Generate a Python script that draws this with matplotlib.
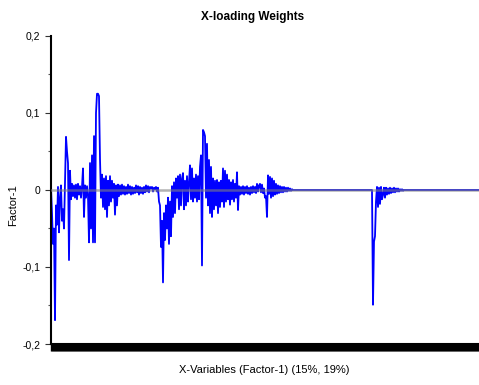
import numpy as np
import matplotlib
matplotlib.use("Agg")
import matplotlib.pyplot as plt
from matplotlib.ticker import MultipleLocator, FixedLocator

plt.rcParams['font.family'] = ['Liberation Sans', 'DejaVu Sans']

TITLE = "X-loading Weights"
XLABEL = "X-Variables (Factor-1) (15%, 19%)"
YLABEL = "Factor-1"

y_ticks = [-0.2, -0.1, 0.0, 0.1, 0.2]
y_tick_labels = ["-0,2", "-0,1", "0", "0,1", "0,2"]

# loading weights, one per variable
weights_first_band = [
    0.003, -0.030, -0.070, -0.050, -0.169, -0.020, -0.045, 0.004, -0.055, -0.010,
    0.006, -0.040, -0.025, -0.050, 0.010, 0.069, 0.050, 0.035, -0.091, 0.025,
    -0.012, 0.008, -0.008, 0.006, -0.010, 0.007, -0.012, 0.008, -0.006, 0.005,
    -0.010, 0.004, 0.028, -0.035, 0.006, -0.010, 0.005, -0.008, -0.068, 0.035,
    -0.050, 0.045, -0.068, 0.070, -0.068, 0.100, 0.125, 0.125, 0.122, 0.040,
    -0.010, 0.020, -0.022, 0.015, -0.025, 0.018, -0.035, 0.012, -0.020, 0.018,
    -0.015, 0.012, -0.010, 0.008, -0.032, 0.006, -0.020, 0.007, -0.008, 0.006,
    -0.006, 0.007, -0.005, 0.005, -0.006, 0.004, -0.005, 0.007, -0.004, 0.005,
    -0.006, 0.004, -0.005, 0.003, -0.004, 0.006, -0.003, 0.005, -0.006, 0.004,
    -0.004, 0.003, -0.005, 0.004, -0.003, 0.006, -0.002, 0.005, -0.003, 0.004,
    0.002, 0.004, -0.002, 0.003, 0.001, 0.004, -0.002, 0.003,
]
weights_second_band = [
    -0.015, -0.020,
    -0.074, -0.040, -0.120, -0.030, -0.065, -0.020, -0.050, -0.010, -0.070, -0.015,
    -0.060, 0.005, -0.035, 0.010, -0.030, 0.015, -0.010, 0.018, -0.025, 0.020,
    -0.020, 0.015, 0.022, -0.025, 0.012, -0.020, 0.018, -0.015, 0.010, 0.032,
    -0.012, 0.028, -0.015, 0.015, -0.010, 0.020, -0.015, 0.018, -0.012, 0.030,
    0.045, -0.098, 0.078, 0.075, 0.070, -0.010, 0.060, -0.020, 0.039, -0.030,
    0.030, -0.035, 0.015, -0.025, 0.012, -0.020, 0.013, -0.030, 0.010, -0.022,
    0.012, -0.015, 0.028, -0.022, 0.025, -0.015, 0.020, -0.012, 0.013, -0.019,
    0.010, -0.012, 0.013, -0.015, 0.008, -0.010, 0.023, -0.026, 0.005, -0.006,
    0.004, -0.005, 0.005, -0.006, 0.004, -0.004, 0.005, -0.005, 0.003, -0.006,
    0.004, -0.004, 0.005, -0.003, 0.004, -0.004, 0.008, -0.002, 0.006, 0.008,
    -0.003, 0.007, -0.004, 0.002, -0.010, -0.008, -0.035, 0.019, -0.005, 0.017,
    -0.010, 0.015, -0.008, 0.012, -0.006, 0.008, -0.005, 0.006, -0.004, 0.005,
    -0.003, 0.004, -0.003, 0.004, -0.002, 0.003, -0.002, 0.003, -0.001, 0.002,
    -0.001, 0.001,
]
weights_flat_gap = [
    0.0, 0.0, 0.0, 0.0, 0.0, 0.0, 0.0, 0.0, 0.0, 0.0, 0.0, 0.0, 0.0, 0.0, 0.0, 0.0, 0.0, 0.0, 0.0, 0.0,
    0.0, 0.0, 0.0, 0.0, 0.0, 0.0, 0.0, 0.0, 0.0, 0.0, 0.0, 0.0, 0.0, 0.0, 0.0, 0.0, 0.0, 0.0, 0.0, 0.0,
    0.0, 0.0, 0.0, 0.0, 0.0, 0.0, 0.0, 0.0, 0.0, 0.0, 0.0, 0.0, 0.0, 0.0, 0.0, 0.0, 0.0, 0.0, 0.0, 0.0,
    0.0, 0.0, 0.0, 0.0, 0.0, 0.0, 0.0, 0.0, 0.0, 0.0, 0.0, 0.0, 0.0, 0.0, 0.0, 0.0, 0.0, 0.0, 0.0, 0.0,
]
weights_third_band = [
    -0.149, -0.067, -0.060, -0.015, 0.004, -0.022, 0.003, -0.018,
    0.004, -0.012, -0.006, 0.003, -0.010, 0.003, -0.006, 0.002, -0.005, 0.003,
    -0.004, 0.002, -0.003, 0.003, -0.003, 0.002, -0.002, 0.002, -0.002, 0.001,
    -0.001, 0.001, -0.001, 0.0,
]
weights_flat_tail = [
    0.0, 0.0, 0.0, 0.0, 0.0, 0.0, 0.0, 0.0, 0.0, 0.0, 0.0, 0.0, 0.0, 0.0, 0.0, 0.0, 0.0, 0.0, 0.0, 0.0,
    0.0, 0.0, 0.0, 0.0, 0.0, 0.0, 0.0, 0.0, 0.0, 0.0, 0.0, 0.0, 0.0, 0.0, 0.0, 0.0, 0.0, 0.0, 0.0, 0.0,
    0.0, 0.0, 0.0, 0.0, 0.0, 0.0, 0.0, 0.0, 0.0, 0.0, 0.0, 0.0, 0.0, 0.0, 0.0, 0.0, 0.0, 0.0, 0.0, 0.0,
    0.0, 0.0, 0.0, 0.0, 0.0, 0.0, 0.0, 0.0, 0.0, 0.0, 0.0, 0.0, 0.0, 0.0, 0.0,
]

weights = np.array(weights_first_band + weights_second_band + weights_flat_gap
                   + weights_third_band + weights_flat_tail)
variables = np.arange(len(weights))
print("variables:", len(weights))

fig = plt.figure(figsize=(4.79, 3.85), dpi=100)
ax = fig.add_axes([51 / 479, 1 - 344 / 385, 1 - 51 / 479, 308 / 385])

ax.plot(variables, weights, color="#0000ff", linewidth=1.3, zorder=2)
ax.axhline(0, color="#808080", linewidth=1.8, alpha=0.6, zorder=3)

ax.set_xlim(0, len(weights) - 1)
ax.set_ylim(-0.2, 0.2)

ax.yaxis.set_major_locator(FixedLocator(y_ticks))
ax.set_yticklabels(y_tick_labels, fontsize=7.5)
ax.yaxis.set_minor_locator(MultipleLocator(0.05))
ax.tick_params(axis='y', which='major', length=4, width=0.8, colors='#333333', labelcolor='black')
ax.tick_params(axis='y', which='minor', length=2, width=0.8, colors='#555555')

# every variable gets a tick, which makes the thick black band
ax.set_xticks(variables)
ax.set_xticklabels([])
ax.tick_params(axis='x', which='major', length=5, width=1.0, colors='black', direction='out')

for s in ['top', 'right']:
    ax.spines[s].set_visible(False)
ax.spines['left'].set_linewidth(1.5)
ax.spines['bottom'].set_linewidth(1.5)

fig.text(253 / 479, 1 - 17 / 385, TITLE, ha='center', va='center', fontsize=8.5, fontweight='bold')
fig.text(264 / 479, 1 - 370 / 385, XLABEL, ha='center', va='center', fontsize=8)
fig.text(13 / 479, 1 - 205 / 385, YLABEL, ha='center', va='center', fontsize=8, rotation=90)

fig.savefig("out.png", dpi=100)
